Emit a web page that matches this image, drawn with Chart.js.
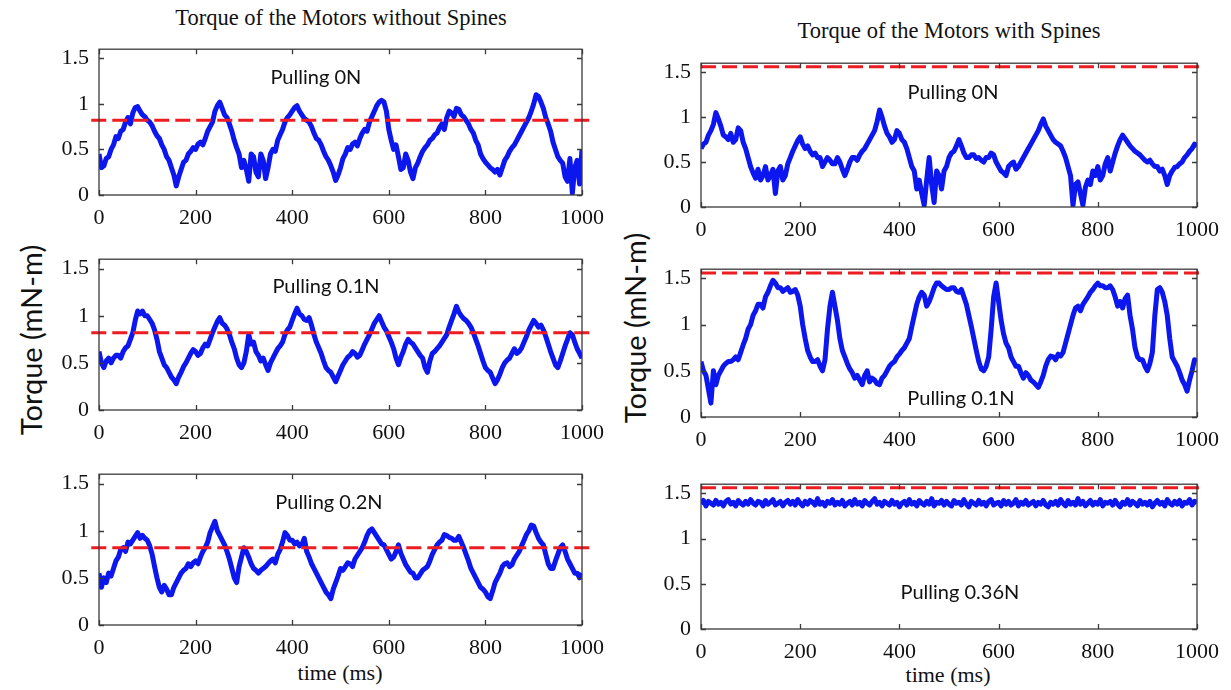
<!DOCTYPE html>
<html><head><meta charset="utf-8">
<script src="https://cdn.jsdelivr.net/npm/chart.js@4/dist/chart.umd.min.js"></script>
<style>
html,body{margin:0;padding:0;background:#fff;}
body{width:1231px;height:690px;position:relative;overflow:hidden;}
.txt{position:absolute;white-space:nowrap;color:#111;transform:translate(-50%,-50%);line-height:1;}
.serif{font-family:'Liberation Serif','Times New Roman',serif;}
.sans{font-family:'Lato','Open Sans',sans-serif;}
.rot{transform:translate(-50%,-50%) rotate(-90deg);}
</style>
</head><body>
<div class="txt serif" style="left:341px;top:18px;font-size:22.5px;">Torque of the Motors without Spines</div>
<div class="txt serif" style="left:949px;top:31px;font-size:22.5px;">Torque of the Motors with Spines</div>
<div class="txt serif" style="left:340px;top:673px;font-size:22px;">time (ms)</div>
<div class="txt serif" style="left:948px;top:675px;font-size:22px;">time (ms)</div>
<div class="txt sans rot" style="left:30px;top:340px;font-size:29px;">Torque (mN-m)</div>
<div class="txt sans rot" style="left:634px;top:328px;font-size:29px;">Torque (mN-m)</div>
<script>
// ---------- data ----------
const timeMs = [0,5,10,15,20,25,30,35,40,45,50,55,60,65,70,75,80,85,90,95,
100,105,110,115,120,125,130,135,140,145,150,155,160,165,170,175,180,185,190,195,
200,205,210,215,220,225,230,235,240,245,250,255,260,265,270,275,280,285,290,295,
300,305,310,315,320,325,330,335,340,345,350,355,360,365,370,375,380,385,390,395,
400,405,410,415,420,425,430,435,440,445,450,455,460,465,470,475,480,485,490,495,
500,505,510,515,520,525,530,535,540,545,550,555,560,565,570,575,580,585,590,595,
600,605,610,615,620,625,630,635,640,645,650,655,660,665,670,675,680,685,690,695,
700,705,710,715,720,725,730,735,740,745,750,755,760,765,770,775,780,785,790,795,
800,805,810,815,820,825,830,835,840,845,850,855,860,865,870,875,880,885,890,895,
900,905,910,915,920,925,930,935,940,945,950,955,960,965,970,975,980,985,990,995,
1000];
const xTickValues = [0,200,400,600,800,1000];
const yTickValues = [0,0.5,1,1.5];
const thresholdNoSpines = 0.82;
const thresholdSpines = 1.56;

const torqueNoSpines0N = [
0.45,0.30,0.32,0.40,0.42,0.50,0.55,0.64,0.62,0.70,0.72,0.80,0.85,0.78,0.90,0.96,0.97,0.92,0.88,0.86,
0.82,0.80,0.76,0.70,0.65,0.62,0.55,0.50,0.42,0.38,0.30,0.22,0.10,0.20,0.28,0.36,0.38,0.45,0.48,0.52,
0.50,0.56,0.58,0.55,0.62,0.70,0.75,0.80,0.92,0.98,1.02,0.95,0.88,0.85,0.78,0.70,0.60,0.52,0.45,0.30,
0.38,0.28,0.15,0.45,0.42,0.25,0.20,0.45,0.38,0.18,0.30,0.45,0.50,0.48,0.60,0.66,0.72,0.80,0.85,0.88,
0.92,0.96,0.98,0.92,0.88,0.84,0.82,0.80,0.75,0.68,0.62,0.60,0.55,0.48,0.42,0.38,0.32,0.25,0.16,0.22,
0.30,0.40,0.45,0.52,0.50,0.56,0.58,0.54,0.62,0.68,0.72,0.70,0.80,0.86,0.92,0.98,1.02,1.04,1.02,0.92,
0.72,0.60,0.50,0.55,0.42,0.28,0.30,0.45,0.38,0.25,0.18,0.30,0.35,0.42,0.48,0.52,0.55,0.60,0.62,0.66,
0.68,0.74,0.78,0.72,0.85,0.92,0.90,0.86,0.95,0.94,0.88,0.86,0.82,0.78,0.72,0.68,0.60,0.55,0.45,0.40,
0.36,0.33,0.30,0.28,0.25,0.28,0.22,0.30,0.38,0.42,0.48,0.52,0.55,0.60,0.65,0.70,0.75,0.80,0.85,0.92,
1.00,1.10,1.08,1.02,0.95,0.85,0.78,0.70,0.58,0.50,0.42,0.38,0.35,0.20,0.15,0.40,0.02,0.30,0.38,0.12,
0.50];
const torqueNoSpines01N = [
0.62,0.50,0.45,0.52,0.55,0.50,0.55,0.58,0.58,0.55,0.62,0.66,0.68,0.75,0.82,0.95,1.05,1.02,1.05,1.00,
1.00,0.96,0.92,0.85,0.75,0.62,0.55,0.48,0.45,0.40,0.35,0.32,0.28,0.35,0.40,0.46,0.50,0.55,0.60,0.64,
0.62,0.58,0.60,0.66,0.70,0.68,0.75,0.82,0.88,0.94,0.98,0.92,0.90,0.86,0.80,0.72,0.65,0.55,0.48,0.45,
0.50,0.62,0.80,0.70,0.72,0.62,0.58,0.52,0.55,0.48,0.42,0.50,0.55,0.60,0.65,0.68,0.72,0.80,0.85,0.88,
0.95,1.02,1.08,1.02,1.00,0.96,0.95,0.98,0.90,0.80,0.72,0.66,0.60,0.52,0.45,0.42,0.40,0.35,0.30,0.36,
0.42,0.48,0.52,0.56,0.58,0.62,0.60,0.56,0.58,0.64,0.70,0.75,0.80,0.86,0.92,0.96,1.00,0.94,0.88,0.84,
0.78,0.72,0.65,0.55,0.48,0.56,0.62,0.70,0.75,0.72,0.70,0.66,0.62,0.58,0.55,0.45,0.40,0.52,0.60,0.62,
0.65,0.68,0.72,0.76,0.80,0.88,0.95,1.02,1.10,1.04,1.00,0.97,0.95,0.92,0.88,0.82,0.75,0.68,0.60,0.52,
0.45,0.42,0.40,0.34,0.28,0.32,0.38,0.45,0.50,0.53,0.55,0.60,0.65,0.60,0.62,0.66,0.72,0.78,0.85,0.90,
0.95,0.92,0.88,0.90,0.85,0.78,0.70,0.62,0.55,0.48,0.45,0.52,0.60,0.68,0.75,0.82,0.80,0.72,0.65,0.60,
0.55];
const torqueNoSpines02N = [
0.55,0.40,0.50,0.45,0.55,0.52,0.60,0.68,0.72,0.80,0.82,0.78,0.88,0.86,0.90,0.94,0.98,0.92,0.95,0.92,
0.90,0.84,0.75,0.62,0.50,0.40,0.35,0.42,0.38,0.32,0.32,0.40,0.45,0.50,0.55,0.58,0.60,0.65,0.62,0.66,
0.68,0.65,0.72,0.78,0.82,0.88,0.98,1.04,1.10,1.00,0.95,0.90,0.85,0.78,0.70,0.60,0.50,0.45,0.62,0.72,
0.82,0.78,0.72,0.65,0.60,0.58,0.55,0.58,0.60,0.62,0.65,0.68,0.70,0.66,0.75,0.80,0.88,0.98,0.95,0.90,
0.90,0.86,0.88,0.84,0.85,0.92,0.78,0.72,0.65,0.60,0.55,0.50,0.45,0.40,0.35,0.32,0.28,0.38,0.45,0.52,
0.60,0.58,0.62,0.66,0.65,0.62,0.70,0.74,0.78,0.82,0.88,0.95,1.00,1.02,0.98,0.94,0.90,0.86,0.85,0.80,
0.75,0.70,0.72,0.78,0.85,0.76,0.70,0.64,0.60,0.56,0.55,0.50,0.50,0.54,0.58,0.60,0.62,0.68,0.75,0.80,
0.85,0.88,0.90,0.96,0.95,0.93,0.92,0.90,0.90,0.94,0.88,0.82,0.75,0.68,0.60,0.55,0.50,0.45,0.40,0.38,
0.35,0.30,0.28,0.36,0.45,0.50,0.55,0.62,0.65,0.66,0.62,0.64,0.70,0.74,0.78,0.84,0.90,0.96,1.00,1.06,
1.05,0.98,0.92,0.88,0.85,0.75,0.65,0.60,0.60,0.68,0.75,0.82,0.85,0.78,0.70,0.65,0.60,0.55,0.55,0.50,
0.55];
const torqueSpines0N = [
0.65,0.70,0.72,0.80,0.85,0.92,1.05,0.98,0.90,0.80,0.78,0.75,0.82,0.72,0.75,0.88,0.85,0.72,0.65,0.55,
0.45,0.38,0.32,0.42,0.30,0.35,0.45,0.30,0.35,0.42,0.15,0.40,0.45,0.30,0.35,0.48,0.55,0.62,0.68,0.74,
0.78,0.70,0.65,0.68,0.62,0.58,0.60,0.55,0.55,0.45,0.50,0.55,0.52,0.48,0.48,0.55,0.50,0.42,0.35,0.42,
0.50,0.55,0.55,0.52,0.58,0.62,0.65,0.70,0.75,0.80,0.85,0.95,1.08,1.00,0.90,0.82,0.78,0.72,0.75,0.85,
0.82,0.75,0.72,0.65,0.55,0.45,0.40,0.20,0.30,0.15,0.02,0.30,0.55,0.25,0.05,0.40,0.35,0.20,0.40,0.45,
0.55,0.60,0.62,0.68,0.75,0.68,0.60,0.55,0.55,0.58,0.58,0.54,0.55,0.52,0.50,0.55,0.55,0.60,0.58,0.50,
0.45,0.40,0.38,0.35,0.45,0.48,0.50,0.42,0.45,0.50,0.55,0.60,0.65,0.70,0.75,0.80,0.85,0.92,0.98,0.90,
0.85,0.80,0.75,0.72,0.70,0.68,0.62,0.55,0.45,0.35,0.02,0.25,0.28,0.15,0.02,0.22,0.30,0.25,0.40,0.35,
0.45,0.30,0.35,0.48,0.55,0.40,0.50,0.60,0.68,0.75,0.80,0.76,0.72,0.68,0.65,0.62,0.60,0.58,0.55,0.52,
0.50,0.52,0.48,0.45,0.45,0.40,0.42,0.35,0.25,0.35,0.40,0.44,0.45,0.48,0.50,0.55,0.58,0.62,0.65,0.70,
0.68];
const torqueSpines01N = [
0.60,0.50,0.45,0.30,0.15,0.50,0.35,0.45,0.50,0.55,0.58,0.60,0.60,0.62,0.65,0.62,0.70,0.78,0.85,0.95,
1.00,1.10,1.15,1.22,1.22,1.18,1.30,1.35,1.42,1.48,1.45,1.40,1.40,1.36,1.38,1.40,1.35,1.36,1.38,1.32,
1.20,1.00,0.85,0.72,0.65,0.60,0.60,0.62,0.55,0.50,0.62,0.95,1.20,1.35,1.20,1.05,0.85,0.72,0.65,0.58,
0.52,0.48,0.42,0.45,0.40,0.35,0.45,0.50,0.38,0.42,0.40,0.36,0.35,0.42,0.45,0.50,0.55,0.58,0.60,0.65,
0.68,0.72,0.75,0.80,0.85,0.98,1.10,1.22,1.30,1.35,1.32,1.20,1.25,1.32,1.40,1.45,1.45,1.42,1.40,1.38,
1.38,1.40,1.40,1.36,1.35,1.38,1.30,1.22,1.10,0.98,0.85,0.72,0.60,0.52,0.50,0.55,0.65,0.95,1.30,1.45,
1.25,1.05,0.90,0.80,0.75,0.65,0.60,0.55,0.55,0.48,0.42,0.48,0.45,0.40,0.38,0.35,0.32,0.38,0.45,0.55,
0.62,0.66,0.65,0.62,0.68,0.66,0.70,0.80,0.90,1.00,1.10,1.18,1.20,1.15,1.22,1.26,1.30,1.35,1.38,1.42,
1.45,1.42,1.42,1.40,1.40,1.42,1.38,1.30,1.20,1.25,1.18,1.28,1.32,1.10,0.95,0.75,0.65,0.62,0.62,0.55,
0.50,0.58,0.70,1.10,1.38,1.40,1.35,1.25,1.10,0.85,0.65,0.60,0.55,0.48,0.40,0.35,0.28,0.40,0.50,0.62,
0.60];
const torqueSpines036N = [
1.38,1.42,1.36,1.41,1.39,1.37,1.42,1.38,1.40,1.36,1.41,1.43,1.38,1.40,1.36,1.42,1.39,1.37,1.41,1.38,
1.43,1.39,1.37,1.41,1.40,1.36,1.42,1.38,1.40,1.43,1.37,1.39,1.41,1.36,1.40,1.42,1.38,1.41,1.37,1.43,
1.39,1.36,1.41,1.38,1.42,1.40,1.37,1.44,1.38,1.40,1.36,1.41,1.39,1.43,1.37,1.40,1.38,1.42,1.36,1.39,
1.41,1.37,1.43,1.38,1.40,1.36,1.42,1.39,1.37,1.41,1.44,1.38,1.40,1.36,1.41,1.39,1.37,1.42,1.38,1.40,
1.35,1.39,1.41,1.37,1.43,1.38,1.40,1.36,1.42,1.39,1.37,1.41,1.38,1.44,1.36,1.40,1.39,1.42,1.37,1.41,
1.38,1.36,1.42,1.39,1.40,1.37,1.43,1.38,1.35,1.41,1.39,1.37,1.42,1.38,1.40,1.36,1.41,1.43,1.37,1.39,
1.40,1.36,1.42,1.38,1.41,1.37,1.39,1.43,1.36,1.40,1.38,1.42,1.37,1.39,1.41,1.36,1.40,1.38,1.42,1.37,
1.35,1.40,1.38,1.41,1.37,1.43,1.39,1.36,1.42,1.38,1.40,1.37,1.44,1.38,1.41,1.36,1.39,1.42,1.37,1.40,
1.38,1.43,1.36,1.40,1.39,1.41,1.37,1.42,1.38,1.35,1.40,1.38,1.43,1.37,1.41,1.39,1.36,1.42,1.38,1.40,
1.37,1.41,1.35,1.39,1.42,1.38,1.40,1.36,1.43,1.39,1.37,1.41,1.38,1.42,1.36,1.40,1.39,1.43,1.37,1.41,
1.40];
const pullingLabels = ['Pulling 0N','Pulling 0.1N','Pulling 0.2N','Pulling 0N','Pulling 0.1N','Pulling 0.36N'];

// ---------- layout / style ----------
const BLUE = 'rgb(12,22,238)';
const RED = 'rgb(236,28,32)';
const panels = [
  {values:torqueNoSpines0N,  thr:thresholdNoSpines, label:pullingLabels[0], area:[99,42,582,195],  lx:449, ly:1.29, dash:[-16,1022]},
  {values:torqueNoSpines01N, thr:thresholdNoSpines, label:pullingLabels[1], area:[99,252,582,410], lx:470, ly:1.31, dash:[-16,1022]},
  {values:torqueNoSpines02N, thr:thresholdNoSpines, label:pullingLabels[2], area:[99,467,582,625], lx:476, ly:1.30, dash:[-16,1022]},
  {values:torqueSpines0N,    thr:thresholdSpines,   label:pullingLabels[3], area:[701,56,1197,207], lx:508, ly:1.27, dash:[0,1008]},
  {values:torqueSpines01N,   thr:thresholdSpines,   label:pullingLabels[4], area:[701,262,1197,417], lx:524, ly:0.20, dash:[0,1008]},
  {values:torqueSpines036N,  thr:thresholdSpines,   label:pullingLabels[5], area:[701,477,1197,629], lx:522, ly:0.40, dash:[0,1008]}
];
const PADL=62, PADT=16, PADR=34, PADB=44;
const tickFont = {family:"'Liberation Serif', 'Times New Roman', serif", size:22};

const boxPlugin = {
  id:'boxTicks',
  afterDraw(chart){
    const {ctx, chartArea:a, scales:{x,y}} = chart;
    ctx.save();
    ctx.strokeStyle='#3a3a3a'; ctx.lineWidth=1.3;
    ctx.strokeRect(a.left, a.top, a.right-a.left, a.bottom-a.top);
    const L=5;
    ctx.beginPath();
    x.ticks.forEach(t=>{const px=Math.round(x.getPixelForValue(t.value))+0.5;
      ctx.moveTo(px,a.bottom); ctx.lineTo(px,a.bottom-L);
      ctx.moveTo(px,a.top); ctx.lineTo(px,a.top+L);});
    y.ticks.forEach(t=>{const py=Math.round(y.getPixelForValue(t.value))+0.5;
      ctx.moveTo(a.left,py); ctx.lineTo(a.left+L,py);
      ctx.moveTo(a.right,py); ctx.lineTo(a.right-L,py);});
    ctx.stroke();
    const p = chart.options.plugins.panelLabel;
    ctx.fillStyle='#111';
    ctx.font="20px 'Lato','Open Sans',sans-serif";
    ctx.textAlign='center'; ctx.textBaseline='middle';
    ctx.fillText(p.text, x.getPixelForValue(p.x), y.getPixelForValue(p.y));
    ctx.restore();
  }
};

panels.forEach(p=>{
  const [l,t,r,b]=p.area;
  const W=(r-l)+PADL+PADR, H=(b-t)+PADT+PADB;
  const c=document.createElement('canvas');
  c.width=W; c.height=H;
  c.style.cssText=`position:absolute;left:${l-PADL}px;top:${t-PADT}px;width:${W}px;height:${H}px;`;
  document.body.appendChild(c);
  new Chart(c,{
    type:'line',
    data:{datasets:[
      {data:[{x:p.dash[0],y:p.thr},{x:p.dash[1],y:p.thr}], borderColor:RED, borderWidth:3, borderDash:[15,6], pointRadius:0, clip:false, order:0},
      {data:timeMs.map((tm,i)=>({x:tm,y:p.values[i]})), borderColor:BLUE, borderWidth:5, pointRadius:0, tension:0, order:1, borderJoinStyle:'round'}
    ]},
    options:{
      responsive:false, animation:false, devicePixelRatio:1,
      layout:{padding:{top:PADT,right:PADR,left:0,bottom:0}},
      plugins:{legend:{display:false}, tooltip:{enabled:false}, panelLabel:{text:p.label,x:p.lx,y:p.ly}},
      scales:{
        x:{type:'linear', min:0, max:1000,
          afterFit(s){s.height=PADB;},
          afterBuildTicks(s){s.ticks=xTickValues.map(v=>({value:v}));},
          grid:{display:false, drawTicks:false}, border:{display:false},
          ticks:{padding:10, font:tickFont, color:'#111', maxRotation:0, autoSkip:false, callback:v=>String(v)}},
        y:{type:'linear', min:0, max:1.6,
          afterFit(s){s.width=PADL;},
          afterBuildTicks(s){s.ticks=yTickValues.map(v=>({value:v}));},
          grid:{display:false, drawTicks:false}, border:{display:false},
          ticks:{padding:10, font:tickFont, color:'#111', autoSkip:false, callback:v=>String(v)}}
      }
    },
    plugins:[boxPlugin]
  });
});
</script>
</body></html>
